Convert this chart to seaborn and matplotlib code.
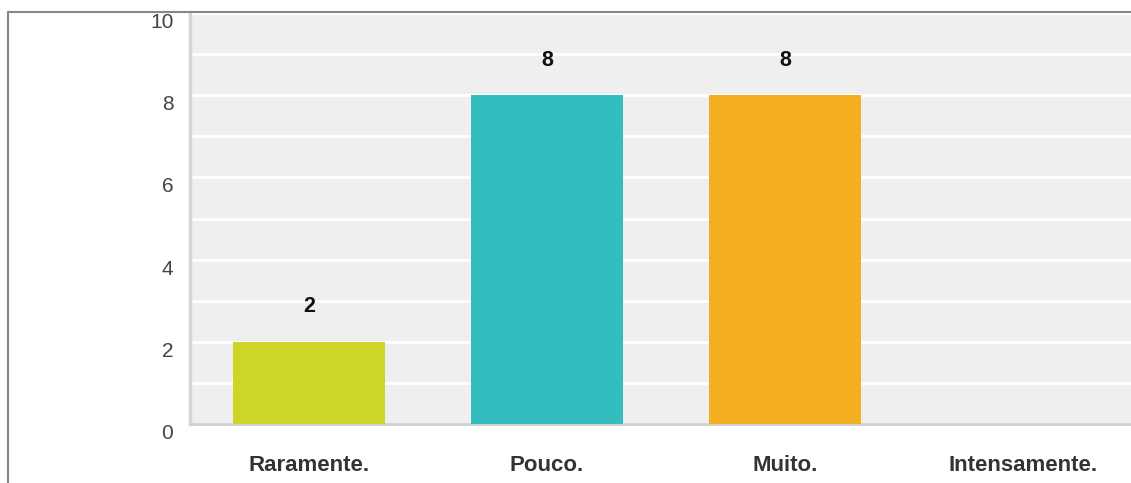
import seaborn as sns
import matplotlib.pyplot as plt
from matplotlib.lines import Line2D
import pandas as pd

# data
categories = ['Raramente.', 'Pouco.', 'Muito.', 'Intensamente.']
counts = [2, 8, 8, 0]
colors = ['#CDD626', '#33BDBF', '#F5AE1F', '#DC3912']

sns.set_style('white')
plt.rcParams['font.family'] = ['Liberation Sans', 'DejaVu Sans']

df = pd.DataFrame({'cat': categories, 'n': counts})

fig = plt.figure(figsize=(11.31, 4.83), dpi=100)
W, H = 1131, 483
ax = fig.add_axes([190 / W, 1 - 424 / H, (1142 - 190) / W, (424 - 13) / H])
ax.set_facecolor('#EFEFEF')

sns.barplot(data=df, x='cat', y='n', hue='cat', palette=colors, legend=False,
            width=0.64, saturation=1, linewidth=0, ax=ax, zorder=3)

ax.set_xlim(-0.5, 3.5)
ax.set_ylim(0, 10)
ax.set_yticks(range(0, 11, 2))
ax.set_yticks(range(1, 11, 2), minor=True)
ax.grid(axis='y', which='both', color='white', linewidth=2, zorder=0)
ax.set_axisbelow(True)

for i, v in enumerate(counts):
    if v > 0:
        ax.text(i, v + 0.85, str(v), ha='center', va='center',
                fontsize=15.5, fontweight='bold', color='#111111')

ax.tick_params(axis='y', length=0, pad=12, labelsize=15, labelcolor='#444444')
ax.tick_params(axis='x', length=0, pad=22, labelsize=16, labelcolor='#333333')
for lab in ax.get_xticklabels():
    lab.set_fontweight('bold')
for lab in ax.get_yticklabels():
    lab.set_va('top')

ax.set_xlabel('')
ax.set_ylabel('')
for s in ['top', 'right']:
    ax.spines[s].set_visible(False)
ax.spines['left'].set_color('#D6D6D6')
ax.spines['left'].set_linewidth(2.5)
ax.spines['bottom'].set_color('#D0D0D0')
ax.spines['bottom'].set_linewidth(2)

# outer frame (left and top edges)
fig.add_artist(Line2D([8 / W, 8 / W], [0, 1 - 12 / H], color='#888888', linewidth=1.5))
fig.add_artist(Line2D([8 / W, 1], [1 - 12 / H, 1 - 12 / H], color='#888888', linewidth=1.5))

plt.savefig('out.png', dpi=100)
